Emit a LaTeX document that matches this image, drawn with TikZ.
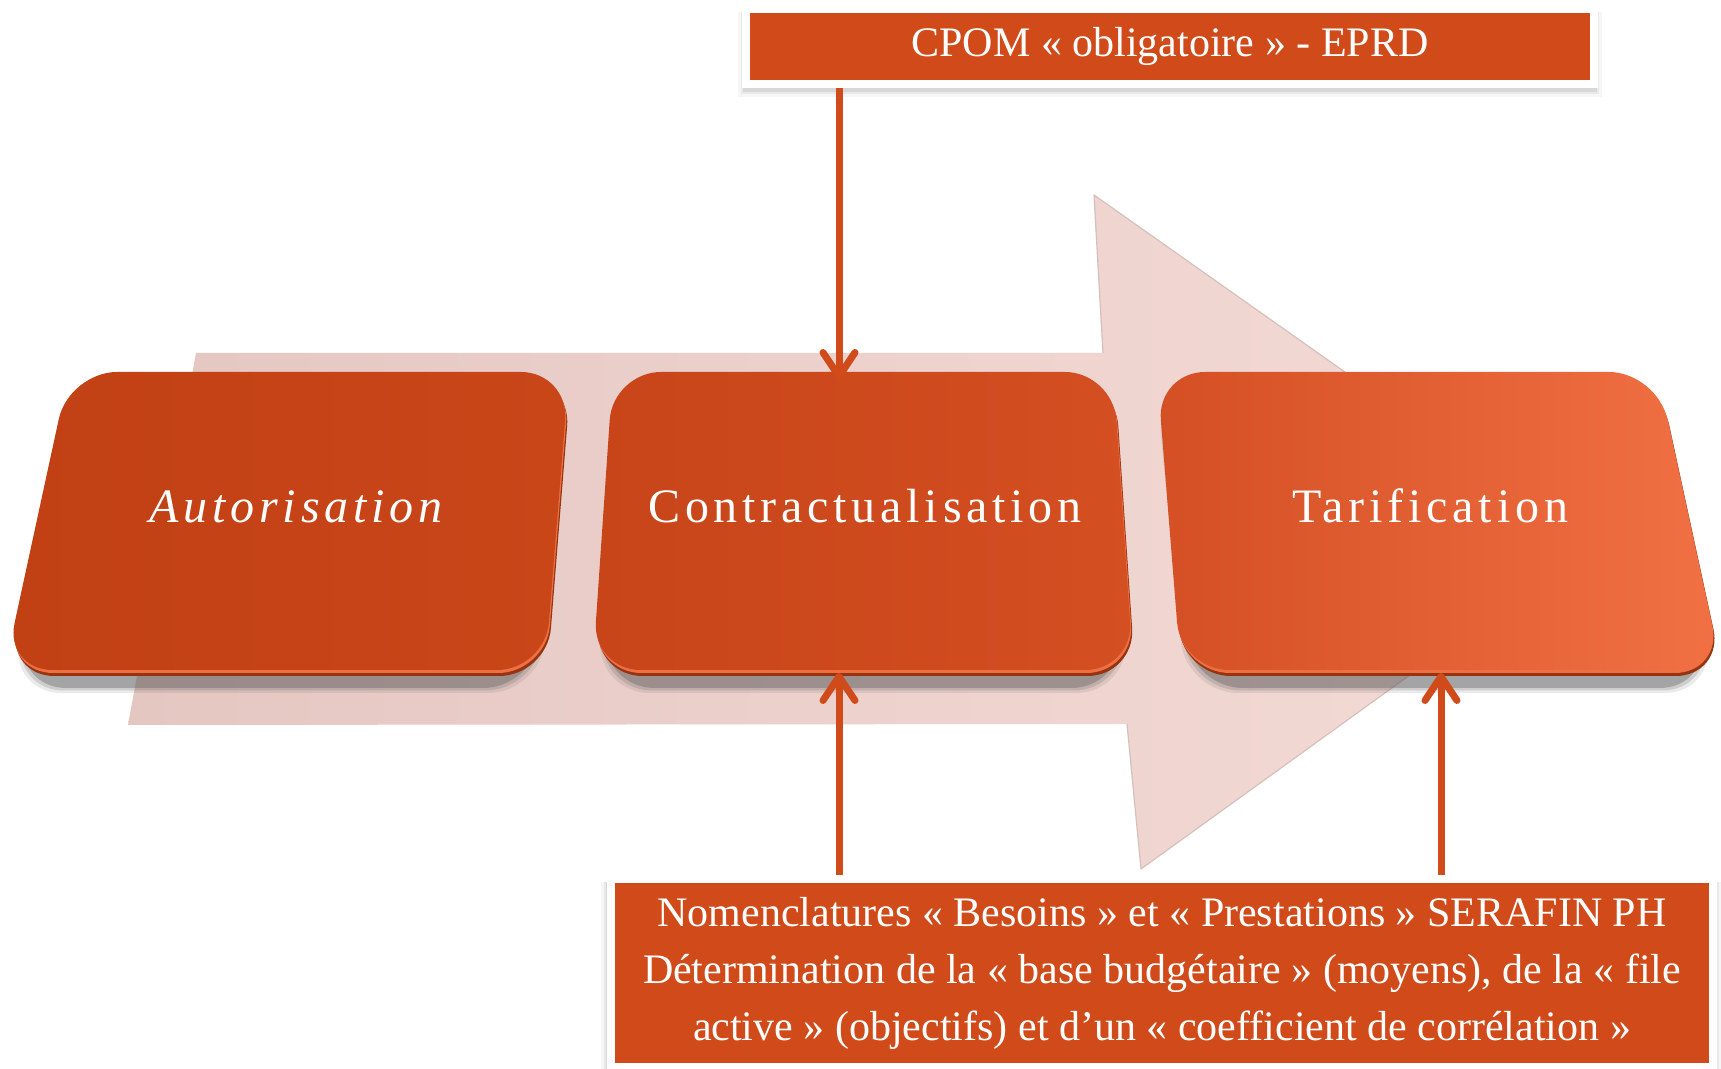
\documentclass[tikz,border=0pt]{standalone}
\usepackage{fontspec}
\setmainfont{Liberation Serif}
\newfontfamily\labelfont[LetterSpace=10]{Liberation Serif}
\usetikzlibrary{arrows.meta}
\definecolor{boxorange}{RGB}{208,74,26}
\definecolor{pinkL}{RGB}{229,199,194}
\definecolor{pinkR}{RGB}{244,219,214}
\definecolor{pinkedge}{RGB}{215,192,188}
\definecolor{shadowgray}{RGB}{90,90,90}
\definecolor{rimdark}{RGB}{150,52,18}
\definecolor{rimlight}{RGB}{238,112,66}
\definecolor{boxL1}{RGB}{193,64,20}
\definecolor{boxR1}{RGB}{201,70,25}
\definecolor{boxL2}{RGB}{199,69,25}
\definecolor{boxR2}{RGB}{212,79,34}
\definecolor{boxL3}{RGB}{212,80,36}
\definecolor{boxR3}{RGB}{241,112,68}
\begin{document}
\begin{tikzpicture}[x=0.5pt,y=-0.5pt,
  conn/.style={draw=boxorange, line width=3.5pt, -{Straight Barb[length=12pt,width=16pt,round]}},
  infobox/.style={draw=white, line width=4pt, fill=boxorange, text=white, inner sep=0pt, align=center},
  steplabel/.style={text=white, font=\labelfont\fontsize{24}{28}\selectfont, anchor=base, inner sep=0pt},
  infotext/.style={font=\fontsize{21}{28.5}\selectfont},
]
\useasboundingbox (0,0) rectangle (1721,1069);
\fill[white] (0,0) rectangle (1721,1069);

% background arrow
\shade[left color=pinkL, right color=pinkR]
  (196,353) -- (1103,353) -- (1094,195) -- (1590,545) -- (1141,869) -- (1127,724) -- (128,725) -- cycle;
\draw[pinkedge, line width=0.6pt, line join=round]
  (1103,353) -- (1094,195) -- (1590,545) -- (1141,869) -- (1127,724);

% step boxes (perspective trapezoids)
\foreach \tl/\tr/\br/\bl/\n in {69/569/545.1/4.4/1, 613/1113/1133.4/592.6/2, 1157/1657/1721.6/1180.9/3}{
  \foreach \e/\o in {5/0.12, 2.5/0.2, 0/0.35}{
    \fill[shadowgray, opacity=\o, rounded corners=26pt]
      (\tl+4-\e,390-\e) -- (\tr-4+\e,390-\e) -- (\br-10+\e,688+\e) -- (\bl+10-\e,688+\e) -- cycle;
  }
  \fill[rimdark, rounded corners=24pt, shift={(2,6)}]
    (\tl,372) -- (\tr,372) -- (\br,670) -- (\bl,670) -- cycle;
  \fill[rimlight, rounded corners=24pt, shift={(1,3)}]
    (\tl,372) -- (\tr,372) -- (\br,670) -- (\bl,670) -- cycle;
  \shade[left color=boxL\n, right color=boxR\n, rounded corners=24pt]
    (\tl,372) -- (\tr,372) -- (\br,670) -- (\bl,670) -- cycle;
}

\node[steplabel] (b1) at (296,523) {\itshape Autorisation};
\node[steplabel] (b2) at (865,523) {Contractualisation};
\node[steplabel] (b3) at (1430,523) {Tarification};

% top and bottom info boxes with soft shadows
\foreach \e/\o in {6/0.05, 3/0.08, 1/0.12}{
  \fill[shadowgray, opacity=\o] (744-\e,12) rectangle (1596+\e,91+\e);
  \fill[shadowgray, opacity=\o] (607-\e,882) rectangle (1716+\e,1075);
}
\node[infobox, infotext, minimum width=424pt, minimum height=37.5pt] (top) at (1170,46.5)
  {CPOM « obligatoire » - EPRD};
\node[infobox, infotext, minimum width=551pt, minimum height=94pt] (bot) at (1162,973)
  {Nomenclatures « Besoins » et « Prestations » SERAFIN PH\\
   Détermination de la « base budgétaire » (moyens), de la « file\\
   active » (objectifs) et d’un « coefficient de corrélation »};

% connectors
\coordinate (b2n) at (839,380);
\coordinate (b2s) at (839,673);
\coordinate (b3s) at (1441,673);
\draw[conn] (top.south -| b2n) -- (b2n);
\draw[conn] (bot.north -| b2s) -- (b2s);
\draw[conn] (bot.north -| b3s) -- (b3s);
\end{tikzpicture}
\end{document}
